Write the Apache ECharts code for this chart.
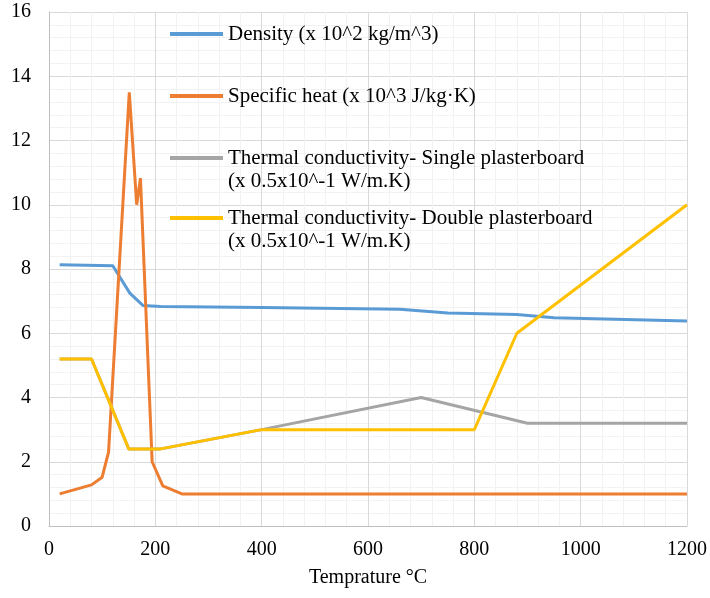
<!DOCTYPE html>
<html>
<head>
<meta charset="utf-8">
<script src="https://cdn.jsdelivr.net/npm/echarts@6/dist/echarts.min.js"></script>
<style>html,body{margin:0;padding:0;background:#fff}#c{width:710px;height:598px}</style>
</head>
<body>
<div id="c"></div>
<script>
var seriesNames = [
  'Density (x 10^2 kg/m^3)',
  'Specific heat (x 10^3 J/kg\u00b7K)',
  'Thermal conductivity- Single plasterboard\n(x 0.5x10^-1 W/m.K)',
  'Thermal conductivity- Double plasterboard\n(x 0.5x10^-1 W/m.K)'
];
var densityData = [[20,8.13],[120,8.1],[152,7.25],[177,6.86],[210,6.83],[400,6.8],[660,6.75],[750,6.63],[880,6.58],[950,6.48],[1200,6.38]];
var specificHeatData = [[20,1.0],[80,1.28],[100,1.52],[112,2.3],[151,13.5],[165,10.0],[172,10.83],[194,2.0],[214,1.25],[250,1.0],[1200,1.0]];
var singleData = [[20,5.2],[80,5.2],[150,2.4],[210,2.4],[400,3.0],[700,4.0],[900,3.2],[1200,3.2]];
var doubleData = [[20,5.2],[80,5.2],[150,2.4],[210,2.4],[400,3.0],[800,3.0],[880,6.0],[1200,10.0]];
var colors = ['#5B9BD5','#ED7D31','#A5A5A5','#FFC000'];
var xTitle = 'Temprature \u00b0C';

var font = 'Liberation Serif, Times New Roman, serif';
var lh = 23;
function mkLegend(i, centerY, twoLine){
  var name = seriesNames[i];
  var top = twoLine ? centerY - lh*1.5 : centerY - lh/2;
  return {
    data:[name], left:170, top: top, padding:0, itemWidth:53, itemHeight:4, itemGap:0,
    icon:'rect',
    formatter: twoLine ? function(n){return '\n'+n;} : undefined,
    textStyle:{fontFamily:font, fontSize:21, color:'#000', lineHeight:lh, padding:[0,0,0,0]}
  };
}
var chart = echarts.init(document.getElementById('c'));
chart.setOption({
  animation:false,
  color: colors,
  grid:{left:49, right:23, top:12, bottom:72, containLabel:false},
  legend:[mkLegend(0,34,false), mkLegend(1,96,false), mkLegend(2,158,true), mkLegend(3,218,true)],
  xAxis:{
    type:'value', min:0, max:1200, interval:200,
    name: xTitle, nameLocation:'middle', nameGap:42,
    nameTextStyle:{fontFamily:font, fontSize:20, color:'#000'},
    axisLine:{show:true, lineStyle:{color:'#BFBFBF', width:1}},
    axisTick:{show:false},
    axisLabel:{fontFamily:font, fontSize:20, color:'#000', margin:14, formatter:function(v){return String(v);}},
    splitLine:{show:true, lineStyle:{color:'#D9D9D9', width:1}},
    minorTick:{show:false, splitNumber:5},
    minorSplitLine:{show:true, lineStyle:{color:'#F2F2F2', width:1}}
  },
  yAxis:{
    type:'value', min:0, max:16, interval:2,
    axisLine:{show:true, lineStyle:{color:'#BFBFBF', width:1}},
    axisTick:{show:false},
    axisLabel:{fontFamily:font, fontSize:20, color:'#000', margin:18},
    splitLine:{show:true, lineStyle:{color:'#D9D9D9', width:1}},
    minorTick:{show:false, splitNumber:5},
    minorSplitLine:{show:true, lineStyle:{color:'#F2F2F2', width:1}}
  },
  series:[
    {name:seriesNames[0], type:'line', data:densityData, showSymbol:false, lineStyle:{width:3}},
    {name:seriesNames[1], type:'line', data:specificHeatData, showSymbol:false, lineStyle:{width:3}},
    {name:seriesNames[2], type:'line', data:singleData, showSymbol:false, lineStyle:{width:3}},
    {name:seriesNames[3], type:'line', data:doubleData, showSymbol:false, lineStyle:{width:3}}
  ]
});
</script>
</body>
</html>
